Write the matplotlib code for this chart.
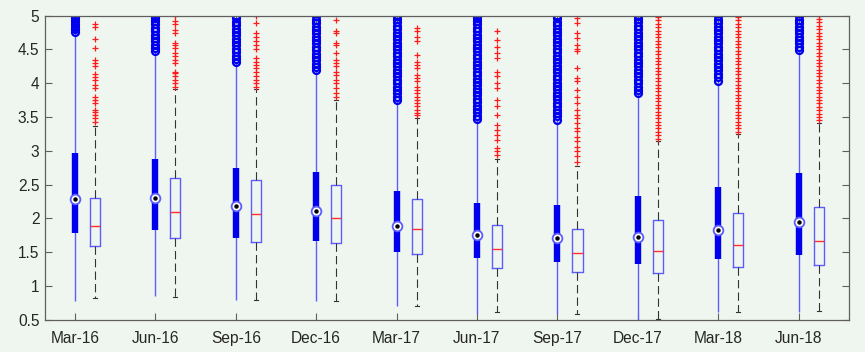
import matplotlib
matplotlib.use("Agg")
import matplotlib.pyplot as plt

plt.rcParams['font.family'] = ['Liberation Sans', 'DejaVu Sans']
plt.rcParams['lines.scale_dashes'] = False

labels = ["Mar-16", "Jun-16", "Sep-16", "Dec-16", "Mar-17",
          "Jun-17", "Sep-17", "Dec-17", "Mar-18", "Jun-18"]

# compact boxes (left of each pair)
c_lo  = [0.78, 0.85, 0.79, 0.77, 0.70, 0.59, 0.59, 0.50, 0.62, 0.62]
c_q1  = [1.78, 1.83, 1.71, 1.67, 1.50, 1.41, 1.36, 1.33, 1.40, 1.45]
c_med = [2.28, 2.30, 2.18, 2.11, 1.89, 1.75, 1.71, 1.73, 1.82, 1.94]
c_q3  = [2.96, 2.88, 2.74, 2.68, 2.40, 2.22, 2.19, 2.33, 2.46, 2.67]
c_hi  = [4.76, 4.47, 4.31, 4.19, 3.75, 3.47, 3.46, 3.85, 4.04, 4.49]
c_out = [
    [4.76, 4.80, 4.84, 4.88, 4.92, 4.96, 5.0],
    [4.47, 4.52, 4.57, 4.62, 4.67, 4.72, 4.77, 4.82, 4.87, 4.92, 4.97, 5.0],
    [4.31, 4.36, 4.41, 4.46, 4.51, 4.56, 4.61, 4.66, 4.71, 4.76, 4.81, 4.86, 4.91, 4.96, 5.0],
    [4.19, 4.24, 4.29, 4.34, 4.39, 4.44, 4.49, 4.54, 4.59, 4.64, 4.69, 4.74, 4.79, 4.84, 4.89, 4.94, 4.99],
    [3.75, 3.80, 3.85, 3.90, 3.95, 4.00, 4.05, 4.10, 4.15, 4.20, 4.25, 4.30, 4.35, 4.40, 4.45,
     4.50, 4.55, 4.60, 4.65, 4.70, 4.75, 4.80, 4.85, 4.90, 4.95, 5.0],
    [3.47, 3.52, 3.57, 3.62, 3.67, 3.72, 3.77, 3.82, 3.87, 3.92, 3.97, 4.02, 4.07, 4.12, 4.17, 4.22,
     4.27, 4.32, 4.37, 4.42, 4.47, 4.52, 4.57, 4.62, 4.67, 4.72, 4.77, 4.82, 4.87, 4.92, 4.97, 5.0],
    [3.46, 3.51, 3.56, 3.61, 3.66, 3.71, 3.76, 3.81, 3.86, 3.91, 3.96, 4.01, 4.06, 4.11, 4.16, 4.21,
     4.26, 4.31, 4.36, 4.41, 4.46, 4.51, 4.56, 4.61, 4.66, 4.71, 4.76, 4.81, 4.86, 4.91, 4.96, 5.0],
    [3.85, 3.90, 3.95, 4.00, 4.05, 4.10, 4.15, 4.20, 4.25, 4.30, 4.35, 4.40, 4.45, 4.50, 4.55, 4.60,
     4.65, 4.70, 4.75, 4.80, 4.85, 4.90, 4.95, 5.0],
    [4.04, 4.09, 4.14, 4.19, 4.24, 4.29, 4.34, 4.39, 4.44, 4.49, 4.54, 4.59, 4.64, 4.69, 4.74, 4.79,
     4.84, 4.89, 4.94, 4.99],
    [4.49, 4.54, 4.59, 4.64, 4.69, 4.74, 4.79, 4.84, 4.89, 4.94, 4.99],
]

# standard boxes (right of each pair)
s_lo  = [0.82, 0.84, 0.79, 0.78, 0.70, 0.61, 0.58, 0.51, 0.62, 0.63]
s_q1  = [1.59, 1.71, 1.65, 1.63, 1.47, 1.26, 1.21, 1.19, 1.28, 1.31]
s_med = [1.88, 2.10, 2.06, 2.01, 1.84, 1.55, 1.49, 1.52, 1.61, 1.66]
s_q3  = [2.30, 2.60, 2.57, 2.49, 2.29, 1.90, 1.84, 1.98, 2.08, 2.17]
s_hi  = [3.36, 3.91, 3.92, 3.75, 3.48, 2.88, 2.78, 3.14, 3.25, 3.41]
s_out = [
    [4.87, 4.83, 4.65, 4.52, 4.35, 4.30, 4.25, 4.13, 4.09, 4.05, 3.98, 3.93, 3.80, 3.75, 3.71,
     3.61, 3.57, 3.53, 3.48, 3.43],
    [4.99, 4.92, 4.87, 4.79, 4.74, 4.59, 4.57, 4.52, 4.45, 4.40, 4.35, 4.30, 4.17, 4.15, 4.10,
     4.05, 4.00, 3.95],
    [5.0, 4.89, 4.74, 4.69, 4.62, 4.57, 4.50, 4.37, 4.32, 4.27, 4.22, 4.17, 4.10, 4.05, 4.00, 3.95],
    [4.94, 4.77, 4.74, 4.59, 4.57, 4.45, 4.35, 4.30, 4.25, 4.17, 4.12, 4.05, 4.00, 3.93, 3.85, 3.80],
    [4.82, 4.77, 4.69, 4.62, 4.42, 4.32, 4.27, 4.22, 4.12, 4.08, 4.03, 3.95, 3.90, 3.85, 3.80,
     3.75, 3.70, 3.66, 3.61, 3.56, 3.53],
    [4.78, 4.64, 4.54, 4.45, 4.37, 4.17, 4.10, 4.00, 3.93, 3.75, 3.66, 3.53, 3.38, 3.31, 3.24,
     3.16, 3.04, 2.99, 2.94],
    [4.96, 4.89, 4.74, 4.67, 4.57, 4.50, 4.47, 4.22, 4.08, 4.03, 3.90, 3.80, 3.70, 3.61, 3.53,
     3.48, 3.41, 3.33, 3.29, 3.21, 3.14, 3.06, 2.99, 2.92, 2.84],
    [3.18, 3.23, 3.28, 3.33, 3.38, 3.43, 3.48, 3.53, 3.58, 3.63, 3.68, 3.73, 3.78, 3.83, 3.88,
     3.93, 3.98, 4.03, 4.08, 4.13, 4.18, 4.23, 4.28, 4.33, 4.38, 4.43, 4.48, 4.53, 4.58, 4.63,
     4.68, 4.73, 4.78, 4.83, 4.88, 4.93, 4.98],
    [3.28, 3.33, 3.38, 3.43, 3.48, 3.53, 3.58, 3.63, 3.68, 3.73, 3.78, 3.83, 3.88, 3.93, 3.98,
     4.03, 4.08, 4.13, 4.18, 4.23, 4.28, 4.33, 4.38, 4.43, 4.48, 4.53, 4.58, 4.63, 4.68, 4.73,
     4.78, 4.83, 4.88, 4.93, 4.98],
    [3.45, 3.50, 3.55, 3.60, 3.65, 3.70, 3.75, 3.80, 3.85, 3.90, 3.95, 4.00, 4.05, 4.10, 4.15,
     4.20, 4.25, 4.30, 4.35, 4.40, 4.45, 4.50, 4.55, 4.60, 4.65, 4.70, 4.75, 4.80, 4.85, 4.90,
     4.95, 5.0],
]

bg = '#eff6ef'
blue = '#0000ee'
lblue = '#5c5cff'

fig = plt.figure(figsize=(8.65, 3.52), dpi=100, facecolor=bg)
ax = fig.add_axes([0.052, 0.092, 0.9295, 0.8634], facecolor=bg)

pos_c = list(range(1, len(labels) + 1))
pos_s = [p + 0.25 for p in pos_c]

# compact style
ax.vlines(pos_c, c_lo, c_hi, color=lblue, lw=1, zorder=2)
ax.vlines(pos_c, c_q1, c_q3, color=blue, lw=4.6, zorder=3)
for p, vals in zip(pos_c, c_out):
    ax.plot([p] * len(vals), vals, 'o', ms=5, mfc='none', mec=blue, mew=1.6, zorder=2)
ax.plot(pos_c, c_med, 'o', ms=7, mfc='white', mec=lblue, mew=1.3, zorder=4)
ax.plot(pos_c, c_med, 'o', ms=2.2, color='black', zorder=5)

# standard style
stats = []
for i in range(len(labels)):
    stats.append({'med': s_med[i], 'q1': s_q1[i], 'q3': s_q3[i],
                  'whislo': s_lo[i], 'whishi': s_hi[i], 'fliers': s_out[i]})
ax.bxp(stats, positions=pos_s, widths=0.125, capwidths=0.05, manage_ticks=False,
       boxprops=dict(color=lblue, lw=1),
       medianprops=dict(color='#ff3030', lw=1),
       whiskerprops=dict(color='#333333', lw=0.8, dashes=(6, 3)),
       capprops=dict(color='#333333', lw=0.8),
       flierprops=dict(marker='+', markeredgecolor='#ff1a1a', ms=4.5, mew=0.9, linestyle='none'))

ax.set_xlim(0.627, 10.627)
ax.set_ylim(0.5, 5)
ax.set_xticks(pos_c)
ax.set_xticklabels(labels)
ax.set_yticks([0.5, 1, 1.5, 2, 2.5, 3, 3.5, 4, 4.5, 5])
ax.set_yticklabels(["0.5", "1", "1.5", "2", "2.5", "3", "3.5", "4", "4.5", "5"])
ax.tick_params(direction='in', length=5, width=0.8, color='#5f5f5f', labelsize=11.2,
               labelcolor='#262626', top=True, right=True)
ax.tick_params(axis='x', pad=8)
ax.tick_params(axis='y', pad=4)
for s in ax.spines.values():
    s.set_color('#5f5f5f')
    s.set_linewidth(0.9)

fig.savefig("out.png", dpi=100, facecolor=bg)
